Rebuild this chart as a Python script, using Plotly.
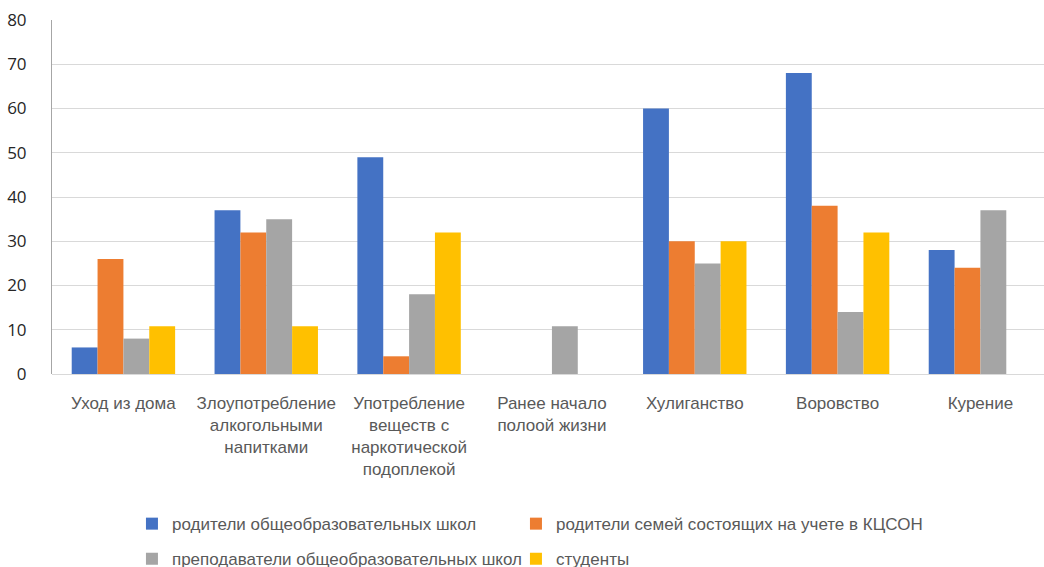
import plotly.graph_objects as go

categories = [
    "Уход из дома",
    "Злоупотребление<br>алкогольными<br>напитками",
    "Употребление<br>веществ с<br>наркотической<br>подоплекой",
    "Ранее начало<br>полоой жизни",
    "Хулиганство",
    "Воровство",
    "Курение",
]
series_names = [
    "родители общеобразовательных школ",
    "родители семей состоящих на учете в КЦСОН",
    "преподаватели общеобразовательных школ",
    "студенты",
]
parents_schools = [6, 37, 49, None, 60, 68, 28]
parents_kcson = [26, 32, 4, None, 30, 38, 24]
teachers = [8, 35, 18, 10.8, 25, 14, 37]
students = [10.8, 10.8, 32, None, 30, 32, None]
y_ticks = [0, 10, 20, 30, 40, 50, 60, 70, 80]

colors = ["#4472C4", "#ED7D31", "#A5A5A5", "#FFC000"]
values = [parents_schools, parents_kcson, teachers, students]
legend_ids = ["legend", "legend2", "legend3", "legend4"]

tfont = "Liberation Sans, Arial, sans-serif"

fig = go.Figure()
for name, vals, col, lg in zip(series_names, values, colors, legend_ids):
    fig.add_trace(go.Bar(
        x=list(range(len(categories))), y=vals, name=name,
        marker=dict(color=col, line=dict(width=0)),
        legend=lg,
    ))

legend_common = dict(
    orientation="h", xref="paper", yref="paper", xanchor="left",
    yanchor="middle",
    font=dict(family=tfont, size=17, color="#595959"),
    bgcolor="rgba(0,0,0,0)", itemwidth=30,
)
col1_x = 0.0806
col2_x = 0.0806 + 384 / 992
row1_y = -0.424
row2_y = -0.523

fig.update_layout(
    width=1044, height=567,
    margin=dict(l=52, r=0, t=20, b=193, autoexpand=False),
    paper_bgcolor="white", plot_bgcolor="white",
    barmode="group", bargap=0.276, bargroupgap=0,
    showlegend=True,
    legend=dict(**legend_common, x=col1_x, y=row1_y),
    legend2=dict(**legend_common, x=col2_x, y=row1_y),
    legend3=dict(**legend_common, x=col1_x, y=row2_y),
    legend4=dict(**legend_common, x=col2_x, y=row2_y),
    xaxis=dict(
        tickmode="array", tickvals=list(range(len(categories))), ticktext=categories,
        range=[-0.5, 6.445], showgrid=False, zeroline=False, showline=False,
        ticks="", ticklabelstandoff=17, tickangle=0, automargin=False,
        tickfont=dict(family=tfont, size=17, color="#595959"),
    ),
    yaxis=dict(
        range=[0, 80], tickvals=y_ticks, showgrid=True, gridcolor="#d9d9d9", gridwidth=1,
        zeroline=True, zerolinecolor="#d9d9d9", zerolinewidth=1,
        showline=True, linecolor="#a6a6a6", linewidth=1, automargin=False,
        ticks="", ticklabelstandoff=21,
        tickfont=dict(family="Open Sans, sans-serif", size=17, color="#262626"),
    ),
)

fig.write_html("out.html")
